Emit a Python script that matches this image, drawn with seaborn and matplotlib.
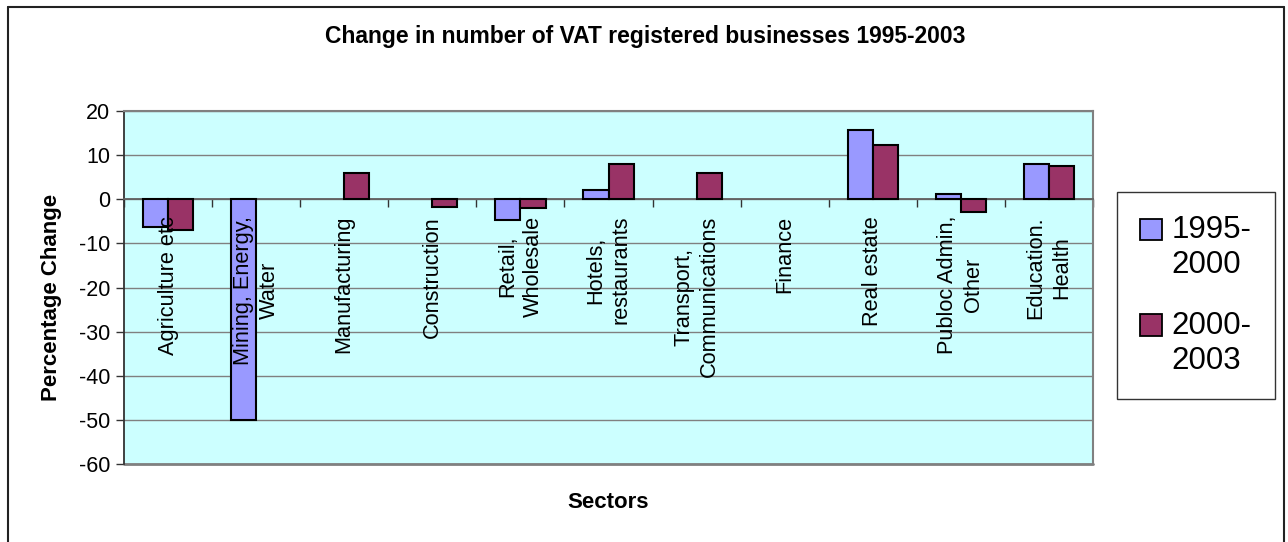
"""
Change in number of VAT registered businesses 1995-2003, grouped bar chart.
"""

import numpy as np
import pandas as pd
import matplotlib
matplotlib.use("Agg")
import matplotlib.pyplot as plt
from matplotlib.lines import Line2D
from matplotlib.patches import Rectangle
from matplotlib.legend_handler import HandlerPatch
import seaborn as sns

# Data
sectors = [
    "Agriculture etc", "Mining, Energy,\nWater", "Manufacturing", "Construction",
    "Retail,\nWholesale", "Hotels,\nrestaurants", "Transport,\nCommunications",
    "Finance", "Real estate", "Publoc Admin,\nOther", "Education.\nHealth",
]
change_1995_2000 = [-6.4, -50.0, 0.0, 0.0, -4.7, 2.1, 0.0, 0.0, 15.8, 1.3, 8.1]
change_2000_2003 = [-7.0, 0.0, 5.9, -1.7, -2.0, 8.1, 5.9, 0.0, 12.2, -2.9, 7.6]
periods = ["1995-\n2000", "2000-\n2003"]
y_ticks = list(range(-60, 21, 10))

colors = ["#9999FF", "#993366"]
bg_color = "#CCFFFF"
grid_color = "#808080"

# Long format table for seaborn
df = pd.DataFrame({
    "sector": sectors * 2,
    "change": change_1995_2000 + change_2000_2003,
    "period": [periods[0]] * len(sectors) + [periods[1]] * len(sectors),
})

sns.set_theme(style="white")
plt.rcParams["font.family"] = ["Liberation Sans", "DejaVu Sans"]
plt.rcParams["text.color"] = "black"
plt.rcParams["xtick.color"] = "black"
plt.rcParams["ytick.color"] = "black"

W, H = 1288, 542
fig = plt.figure(figsize=(W / 100, H / 100), dpi=100)
left, right, top, bottom = 124, 1093, 111, 464
ax = fig.add_axes([left / W, 1 - bottom / H, (right - left) / W, (bottom - top) / H])
ax.set_facecolor(bg_color)

sns.barplot(data=df, x="sector", y="change", hue="period", palette=colors,
            order=sectors, hue_order=periods, width=0.57, gap=0, saturation=1,
            edgecolor="black", linewidth=1.5, ax=ax, legend=False, zorder=3)

# zero-height bars are not drawn in the original
for bar in ax.patches:
    if bar.get_height() == 0:
        bar.set_visible(False)

ax.set_ylim(-60, 20)
ax.set_xlim(-0.5, len(sectors) - 0.5)
ax.set_yticks(y_ticks)
ax.set_yticklabels([str(t) for t in y_ticks], fontsize=15.5)
ax.yaxis.grid(True, color=grid_color, linewidth=1)
ax.set_axisbelow(True)
ax.tick_params(axis="y", direction="out", length=6, width=1, color="#333333",
               left=True, pad=4)

# category axis crosses at zero, ticks between categories
ax.spines["bottom"].set_position(("data", 0))
ax.spines["bottom"].set_color("#606060")
ax.spines["bottom"].set_linewidth(1.3)
ax.set_xticks(np.arange(len(sectors) + 1) - 0.5)
ax.set_xticklabels([])
ax.tick_params(axis="x", direction="out", length=6, width=1, color="#333333", bottom=True)
ax.set_xlabel("")
ax.set_ylabel("")
for side in ["top", "right"]:
    ax.spines[side].set_color(grid_color)
    ax.spines[side].set_linewidth(1.5)
ax.spines["left"].set_color("#333333")
ax.spines["left"].set_linewidth(1.3)
ax.add_line(Line2D([0, 1], [0, 0], transform=ax.transAxes, color=grid_color,
                   linewidth=2, clip_on=False))

# rotated category labels hanging under the zero line
for i, name in enumerate(sectors):
    ax.annotate(name, xy=(i, 0), xytext=(0, -12), textcoords="offset points",
                rotation=90, ha="center", va="top", multialignment="center",
                linespacing=1.3, fontsize=15.7, zorder=5)

fig.text(645 / W, 1 - 37 / H, "Change in number of VAT registered businesses 1995-2003",
         ha="center", va="center", fontsize=16.5, fontweight="bold")
fig.text(52 / W, 1 - 297 / H, "Percentage Change", rotation=90, ha="center",
         va="center", fontsize=16, fontweight="bold")
fig.text(608 / W, 1 - 503 / H, "Sectors", ha="center", va="center",
         fontsize=16, fontweight="bold")


# legend: swatch sits next to the first line of each two-line label
def top_swatch(legend, orig_handle, xdescent, ydescent, width, height, fontsize):
    return Rectangle((-xdescent, -ydescent + 0.6 * fontsize), width, height)


handles = [Rectangle((0, 0), 1, 1, facecolor=c, edgecolor="black", linewidth=1.3)
           for c in colors]
leg = fig.legend(handles, periods, loc="upper left",
                 bbox_to_anchor=(1117 / W, 1 - 192 / H), fontsize=22.5,
                 frameon=True, fancybox=False, edgecolor="black",
                 handlelength=0.7, handleheight=0.7, handletextpad=0.3,
                 labelspacing=1.0, borderpad=0.75, borderaxespad=0,
                 handler_map={Rectangle: HandlerPatch(patch_func=top_swatch)})
leg.get_frame().set_linewidth(1)

# outer chart frame (open at the bottom)
frame_kw = dict(transform=fig.transFigure, color="#222222", linewidth=1.5)
fig.add_artist(Line2D([8 / W, 8 / W], [0, 1 - 7 / H], **frame_kw))
fig.add_artist(Line2D([8 / W, 1284 / W], [1 - 7 / H, 1 - 7 / H], **frame_kw))
fig.add_artist(Line2D([1284 / W, 1284 / W], [0, 1 - 7 / H], **frame_kw))

fig.savefig("out.png", dpi=100, facecolor="white")
